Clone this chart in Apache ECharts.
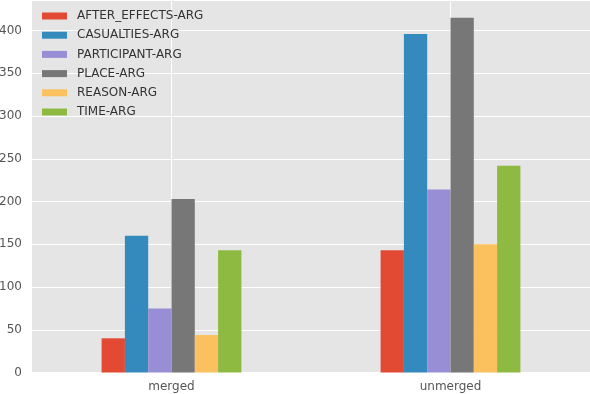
<!DOCTYPE html>
<html>
<head>
<meta charset="utf-8">
<script src="https://cdn.jsdelivr.net/npm/echarts@6/dist/echarts.min.js"></script>
<style>
html,body{margin:0;padding:0;background:#fff;}
#chart{width:590px;height:394px;}
</style>
</head>
<body>
<div id="chart"></div>
<script>
const categories = ['merged', 'unmerged'];
const seriesNames = ['AFTER_EFFECTS-ARG', 'CASUALTIES-ARG', 'PARTICIPANT-ARG', 'PLACE-ARG', 'REASON-ARG', 'TIME-ARG'];
const afterEffects = [40, 143];
const casualties = [160, 396];
const participant = [75, 214];
const place = [203, 415];
const reason = [44, 150];
const time = [143, 242];
const yTicks = [0, 50, 100, 150, 200, 250, 300, 350, 400];

const values = [afterEffects, casualties, participant, place, reason, time];
const colors = ['#E24A33', '#348ABD', '#988ED5', '#777777', '#FBC15E', '#8EBA42'];

const chart = echarts.init(document.getElementById('chart'), null, {renderer: 'canvas'});
const font = 'DejaVu Sans';
chart.setOption({
  animation: false,
  backgroundColor: '#ffffff',
  grid: {left: 32, right: 0, top: 0, bottom: 21.5, backgroundColor: '#E5E5E5', show: true, borderWidth: 0, containLabel: false, outerBoundsMode: 'none'},
  legend: {
    orient: 'vertical',
    left: 37,
    top: 5,
    itemWidth: 25,
    itemHeight: 7,
    itemGap: 7.2,
    icon: 'rect',
    data: seriesNames,
    textStyle: {fontFamily: font, fontSize: 12, color: '#333', lineHeight: 12, padding: [0, 0, 0, 5]}
  },
  xAxis: [
    {
      type: 'category',
      data: categories,
      boundaryGap: true,
      axisLine: {show: false},
      axisTick: {show: false},
      splitLine: {show: false},
      axisLabel: {fontFamily: font, fontSize: 12, color: '#555', margin: 8}
    },
    {
      type: 'category',
      data: ['a', 'b', 'c', 'd', 'e'],
      boundaryGap: false,
      position: 'bottom',
      axisLine: {show: false},
      axisTick: {show: false},
      axisLabel: {show: false},
      splitLine: {show: true, interval: function (i) { return i === 1 || i === 3; }, lineStyle: {color: '#ffffff', width: 1}}
    }
  ],
  yAxis: {
    type: 'value',
    min: 0,
    max: 435.75,
    interval: 50,
    axisLine: {show: false},
    axisTick: {show: false},
    axisLabel: {
      fontFamily: font, fontSize: 12, color: '#555', margin: 10, showMaxLabel: false,
      formatter: function (v) { return yTicks.indexOf(v) >= 0 ? String(v) : ''; }
    },
    splitLine: {lineStyle: {color: '#ffffff', width: 1}}
  },
  series: seriesNames.map(function (name, i) {
    return {
      name: name,
      type: 'bar',
      xAxisIndex: 0,
      data: values[i],
      barWidth: 23.3,
      barGap: '0%',
      itemStyle: {color: colors[i]}
    };
  })
});
</script>
</body>
</html>
